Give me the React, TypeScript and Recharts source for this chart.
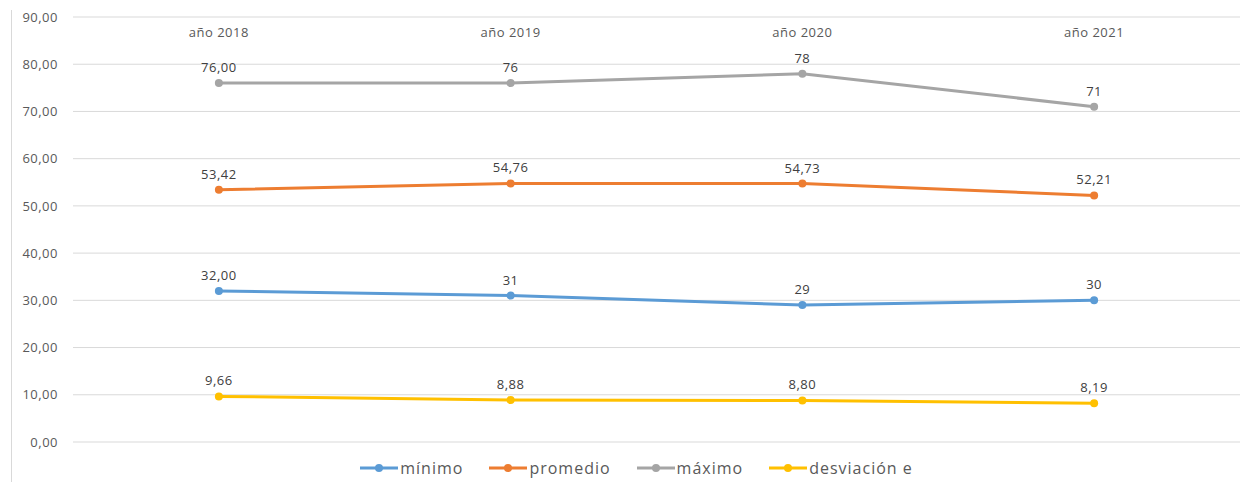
import { LineChart, Line, XAxis, YAxis, CartesianGrid, Legend, LabelList } from 'recharts'

const years = ['año 2018', 'año 2019', 'año 2020', 'año 2021']

const minimo = [32, 31, 29, 30]
const promedio = [53.42, 54.76, 54.73, 52.21]
const maximo = [76, 76, 78, 71]
const desviacion = [9.66, 8.88, 8.8, 8.19]

// labels as printed on the chart (mixed formats)
const minimoLbl = ['32,00', '31', '29', '30']
const promedioLbl = ['53,42', '54,76', '54,73', '52,21']
const maximoLbl = ['76,00', '76', '78', '71']
const desviacionLbl = ['9,66', '8,88', '8,80', '8,19']

const yTicks = [0, 10, 20, 30, 40, 50, 60, 70, 80, 90]

const series = [
  { key: 'minimo', name: 'mínimo', color: '#5B9BD5' },
  { key: 'promedio', name: 'promedio', color: '#ED7D31' },
  { key: 'maximo', name: 'máximo', color: '#A5A5A5' },
  { key: 'desviacion', name: 'desviación e', color: '#FFC000' },
]

const data = years.map((year, i) => ({
  year,
  minimo: minimo[i],
  promedio: promedio[i],
  maximo: maximo[i],
  desviacion: desviacion[i],
  minimoLbl: minimoLbl[i],
  promedioLbl: promedioLbl[i],
  maximoLbl: maximoLbl[i],
  desviacionLbl: desviacionLbl[i],
}))

const FONT = '"Open Sans", sans-serif'

const fmt = (v: number) => v.toFixed(2).replace('.', ',')

// eslint-disable-next-line @typescript-eslint/no-explicit-any
function YearTick(props: any) {
  const { x, y, payload } = props
  return (
    <text x={x} y={y} dy={20} textAnchor="middle" fill="#595959" fontSize={13} letterSpacing={0.5} fontFamily={FONT}>
      {payload.value}
    </text>
  )
}

function LegendContent() {
  return (
    <div style={{ display: 'flex', justifyContent: 'center', alignItems: 'center', fontFamily: FONT, paddingLeft: 54 }}>
      {series.map((s) => (
        <div key={s.key} style={{ display: 'flex', alignItems: 'center', marginRight: 26 }}>
          <svg width={38} height={10}>
            <line x1={0} y1={5} x2={38} y2={5} stroke={s.color} strokeWidth={3} />
            <circle cx={19} cy={5} r={4} fill={s.color} />
          </svg>
          <span style={{ marginLeft: 2, fontSize: 16, letterSpacing: 1, color: '#595959' }}>{s.name}</span>
        </div>
      ))}
    </div>
  )
}

export default function App() {
  return (
    <div style={{ position: 'absolute', left: 0, top: 0, width: 1245, height: 482, background: '#fff' }}>
      <div style={{ position: 'absolute', left: 11, top: 10, width: 1, height: 472, background: '#d9d9d9' }} />
      <LineChart width={1245} height={482} data={data} margin={{ top: 16, right: 5, left: 11, bottom: 18 }}>
        <CartesianGrid vertical={false} stroke="#d9d9d9" strokeWidth={1} />
        <XAxis
          dataKey="year"
          orientation="top"
          scale="band"
          height={1}
          axisLine={false}
          tickLine={false}
          tickSize={0}
          tickMargin={0}
          interval={0}
          tick={<YearTick />}
        />
        <YAxis
          domain={[0, 90]}
          ticks={yTicks}
          width={62}
          axisLine={false}
          tickLine={false}
          tickSize={0}
          tickMargin={15}
          tickFormatter={fmt}
          tick={{ fill: '#595959', fontSize: 13, fontFamily: FONT, letterSpacing: 0.5 }}
        />
        <Legend
          verticalAlign="bottom"
          content={<LegendContent />}
          wrapperStyle={{ top: 457, left: 0, width: 1245 }}
        />
        {series.map((s) => (
          <Line
            key={s.key}
            dataKey={s.key}
            name={s.name}
            stroke={s.color}
            strokeWidth={3}
            dot={{ r: 4, fill: s.color, stroke: 'none' }}
            isAnimationActive={false}
          >
            <LabelList
              dataKey={`${s.key}Lbl`}
              position="top"
              offset={11}
              fill="#404040"
              fontSize={13}
              letterSpacing={0.5}
              fontFamily={FONT}
            />
          </Line>
        ))}
      </LineChart>
    </div>
  )
}
